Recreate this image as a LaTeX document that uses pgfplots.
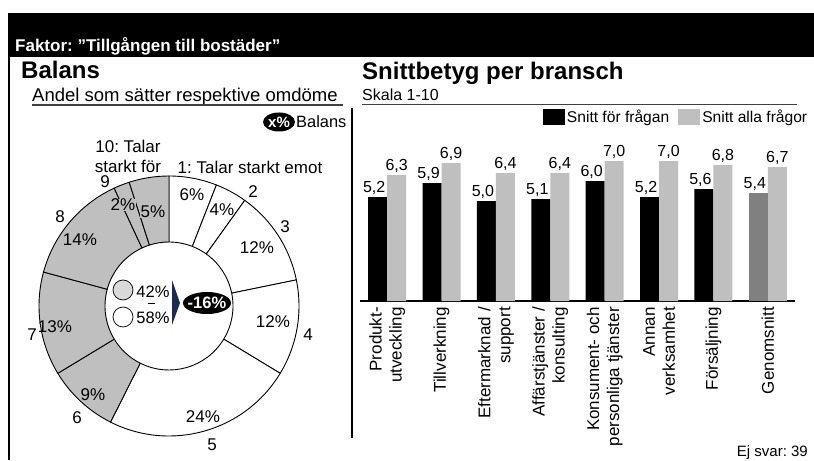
\documentclass[border=0pt]{standalone}
\usepackage{pgfplots}
\pgfplotsset{compat=1.18}
\usepackage{fontspec}
\setmainfont{Liberation Sans}
\frenchspacing
\definecolor{lgray}{HTML}{BFBFBF}
\definecolor{dgray}{HTML}{808080}
\definecolor{cgray}{HTML}{D9D9D9}
\definecolor{navy}{HTML}{1F2A50}
\newcommand\fs[2]{\fontsize{#1pt}{#2pt}\selectfont}
\tikzset{dl/.style={font=\fs{17}{20}}}
% donut sector: #1 cumulative start (%), #2 value (%), #3 fill
\newcommand\sector[3]{%
  \pgfmathsetmacro\sa{90-#1/101*360}%
  \pgfmathsetmacro\sb{90-(#1+#2)/101*360}%
  \pgfmathsetmacro\xa{64*cos(\sa)}%
  \pgfmathsetmacro\ya{64*sin(\sa)}%
  \pgfmathsetmacro\xb{130*cos(\sb)}%
  \pgfmathsetmacro\yb{130*sin(\sb)}%
  \edef\temp{\noexpand\filldraw[fill=#3,draw=black,line width=0.9pt,line join=round] (axis cs:\xa,\ya) arc[start angle=\sa,end angle=\sb,radius=64pt] -- (axis cs:\xb,\yb) arc[start angle=\sb,end angle=\sa,radius=130pt] -- cycle;}%
  \temp
}
\begin{document}
\begin{tikzpicture}
\fill[white] (0pt,0pt) rectangle (814pt,460pt);
% header band
\fill[black] (8pt,403pt) rectangle (814pt,447pt);
\node[anchor=base west, inner sep=0pt, text=white, font=\bfseries\fs{17}{20}] at (15pt,408.5pt) {Faktor: ”Tillgången till bostäder”};
\draw[line width=1.3pt] (9pt,0pt) -- (9pt,403pt);
% left panel titles
\node[anchor=base west, inner sep=0pt, font=\bfseries\fs{24}{28}] at (21pt,381pt) {Balans};
\node[anchor=base west, inner sep=0pt, font=\fs{18.5}{22}] at (32pt,358.5pt) {Andel som sätter respektive omdöme};
\draw[line width=1.1pt, black!75] (32pt,355pt) -- (343pt,355pt);
\fill[black] (279pt,338pt) ellipse[x radius=16pt, y radius=9.5pt];
\node[inner sep=0pt, text=white, font=\bfseries\fs{15}{18}] at (279pt,338pt) {x\%};
\node[anchor=west, inner sep=0pt, font=\fs{16.4}{19}] at (296pt,338pt) {Balans};
\draw[line width=1.1pt] (352pt,22pt) -- (352pt,352pt);
% right panel titles
\node[anchor=base west, inner sep=0pt, font=\bfseries\fs{24}{28}] at (362pt,380pt) {Snittbetyg per bransch};
\node[anchor=base west, inner sep=0pt, font=\fs{16}{19}] at (362pt,359.5pt) {Skala 1-10};
\draw[line width=1.1pt, black!75] (362pt,355.7pt) -- (797pt,355.7pt);
\node[anchor=base east, inner sep=0pt, font=\fs{15}{18}] at (808pt,3pt) {Ej svar: 39};

% donut
\begin{axis}[at={(169pt,154pt)}, anchor=origin, hide axis, x=1pt, y=1pt,
  xmin=-140, xmax=140, ymin=-140, ymax=140, clip=false]
\addplot[draw=none] coordinates {(0,0)};
\sector{0}{6}{white}
\sector{6}{4}{white}
\sector{10}{12}{white}
\sector{22}{12}{white}
\sector{34}{24}{white}
\sector{58}{9}{lgray}
\sector{67}{13}{lgray}
\sector{80}{14}{lgray}
\sector{94}{2}{lgray}
\sector{96}{5}{lgray}
\node[dl] at (axis cs:23,111) {6\%};
\node[dl] at (axis cs:53,96) {4\%};
\node[dl] at (axis cs:88,58) {12\%};
\node[dl] at (axis cs:104,-16) {12\%};
\node[dl] at (axis cs:34,-111) {24\%};
\node[dl] at (axis cs:-76,-89) {9\%};
\node[dl] at (axis cs:-114,-21) {13\%};
\node[dl] at (axis cs:-89,66) {14\%};
\node[dl, fill=lgray, inner sep=0.5pt] at (axis cs:-46,101) {2\%};
\node[dl, fill=lgray, inner sep=0.5pt] at (axis cs:-16,94) {5\%};
\node[dl] at (axis cs:84,114) {2};
\node[dl] at (axis cs:116,79) {3};
\node[dl] at (axis cs:139,-29) {4};
\node[dl] at (axis cs:43,-139) {5};
\node[dl] at (axis cs:-92,-112) {6};
\node[dl] at (axis cs:-137,-29) {7};
\node[dl] at (axis cs:-109,89) {8};
\node[dl] at (axis cs:-64,124) {9};
\node[dl] at (axis cs:81,139) {1: Talar starkt emot};
\node[dl, align=center] at (axis cs:-41,150) {10: Talar\\starkt för};
% centre
\draw[fill=cgray, line width=0.7pt] (axis cs:-46,16) circle[radius=10pt];
\draw[fill=white, line width=0.7pt] (axis cs:-46,-11) circle[radius=10pt];
\node[font=\fs{16.5}{19}] at (axis cs:-16,14) {42\%};
\node[font=\fs{16.5}{19}] at (axis cs:-16,-12) {58\%};
\draw[line width=0.9pt] (axis cs:-21,3) -- (axis cs:-14,3);
\fill[navy] (axis cs:3,26) -- (axis cs:11,3) -- (axis cs:3,-19) -- cycle;
\fill[black] (axis cs:38,3) ellipse[x radius=24pt, y radius=11pt];
\node[text=white, font=\bfseries\fs{16.5}{19}] at (axis cs:38,3) {-16\%};
\end{axis}

% bar chart
\begin{axis}[at={(360pt,159pt)}, anchor=south west, scale only axis,
  width=435pt, height=193pt,
  xmin=-0.5, xmax=7.5, ymin=0, ymax=9.65,
  axis y line=none, axis x line*=bottom,
  x axis line style={-, line width=1.2pt},
  xtick={0,...,7}, major tick length=0pt,
  xticklabels={{Produkt-\\utveckling},Tillverkning,{Eftermarknad /\\support},{Affärstjänster /\\konsulting},{Konsument- och\\personliga tjänster},{Annan\\verksamhet},Försäljning,Genomsnitt},
  xticklabel style={rotate=90, anchor=east, align=right, font=\fs{17}{20}, inner sep=0pt},
  xticklabel shift=6pt,
  ybar, bar width=19pt,
  nodes near coords,
  every node near coord/.append style={font=\fs{16}{19}, inner sep=1pt, yshift=1.5pt,
    /pgf/number format/fixed, /pgf/number format/fixed zerofill,
    /pgf/number format/precision=1, /pgf/number format/use comma,
    /pgf/number format/assume math mode=true},
  legend columns=2,
  legend style={draw=none, fill=none, font=\fs{15.6}{19}, at={(1.04,1.012)}, anchor=north east,
    /tikz/every even column/.append style={column sep=7pt}},
  legend image code/.code={\fill[#1] (0pt,-8pt) rectangle (22pt,8pt);},
]
\addplot[fill=black, draw=none, bar shift=-9.5pt,
  every node near coord/.append style={/tikz/xshift=-3.5pt},
  legend image post style={draw=navy, line width=0.8pt}]
  coordinates {(0,5.2) (1,5.9) (2,5.0) (3,5.1) (4,6.0) (5,5.2) (6,5.6)};
\addplot[fill=lgray, draw=none, bar shift=9.5pt]
  coordinates {(0,6.3) (1,6.9) (2,6.4) (3,6.4) (4,7.0) (5,7.0) (6,6.8) (7,6.7)};
\addplot[fill=dgray, draw=none, bar shift=-9.5pt, forget plot,
  every node near coord/.append style={/tikz/xshift=-3.5pt}]
  coordinates {(7,5.4)};
\legend{Snitt för frågan, Snitt alla frågor}
\end{axis}
\end{tikzpicture}
\end{document}
